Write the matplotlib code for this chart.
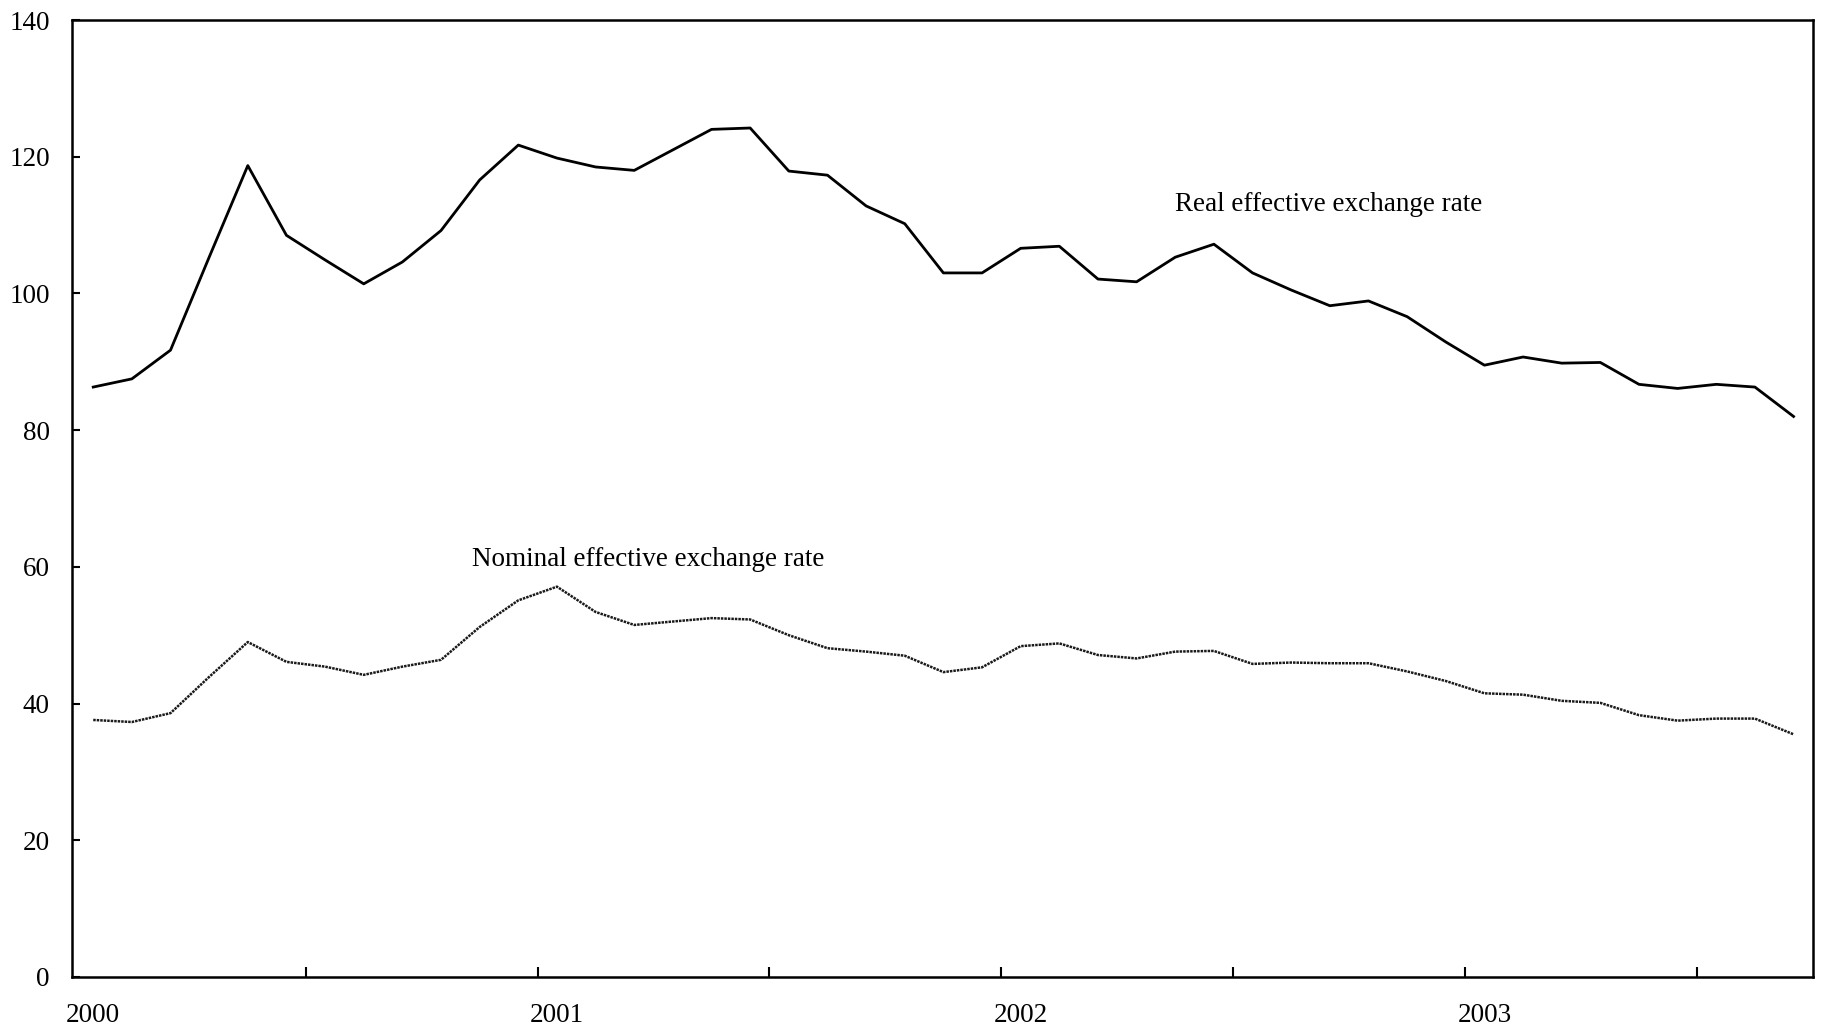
import numpy as np
import matplotlib
matplotlib.use("Agg")
import matplotlib.pyplot as plt

plt.rcParams['font.family'] = ['Liberation Serif', 'DejaVu Serif']

# Monthly data, Jan 2000 - Sep 2003
months = np.arange(45)
real_rate = [86.3, 87.5, 91.7, 105.3, 118.7, 108.5, 104.9, 101.4, 104.6, 109.2,
             116.6, 121.7, 119.8, 118.5, 118.0, 121.0, 124.0, 124.2, 117.9, 117.3,
             112.8, 110.2, 103.0, 103.0, 106.6, 106.9, 102.1, 101.7, 105.3, 107.2,
             103.0, 100.5, 98.2, 98.9, 96.6, 92.9, 89.5, 90.7, 89.8, 89.9,
             86.7, 86.1, 86.7, 86.3, 82.0]
nominal_rate = [37.6, 37.3, 38.6, 43.9, 49.0, 46.1, 45.4, 44.2, 45.4, 46.4,
                51.2, 55.1, 57.1, 53.4, 51.5, 52.0, 52.5, 52.3, 50.0, 48.1,
                47.6, 47.0, 44.6, 45.3, 48.4, 48.8, 47.1, 46.6, 47.6, 47.7,
                45.8, 46.0, 45.9, 45.9, 44.7, 43.3, 41.5, 41.3, 40.4, 40.1,
                38.3, 37.5, 37.8, 37.8, 35.5]
year_labels = ['2000', '2001', '2002', '2003']
year_pos = [0, 12, 24, 36]
half_year_ticks = [5.5, 11.5, 17.5, 23.5, 29.5, 35.5, 41.5]

fig = plt.figure(figsize=(18.22, 10.31), dpi=100)
ax = fig.add_axes([0.0395, 0.0524, 0.9555, 0.9282])

ax.plot(months, real_rate, color='black', linewidth=2.0)
ax.plot(months, nominal_rate, color='#1a1a1a', linewidth=1.8, linestyle=(0, (1, 0.4)))

ax.text(28.0, 113.0, 'Real effective exchange rate', fontsize=19.5, va='center', ha='left')
ax.text(9.8, 61.1, 'Nominal effective exchange rate', fontsize=19.5, va='center', ha='left')

ax.set_xlim(-0.55, 44.5)
ax.set_ylim(0, 140)
ax.set_yticks(np.arange(0, 141, 20))

# half-year tick marks without labels, year labels without marks
ax.set_xticks(half_year_ticks)
ax.set_xticklabels([])
ax.set_xticks(year_pos, minor=True)
ax.set_xticklabels(year_labels, minor=True)
ax.tick_params(axis='x', which='major', direction='in', length=7, width=1.5)
ax.tick_params(axis='x', which='minor', length=0, pad=19, labelsize=19.5)
ax.tick_params(axis='y', direction='in', length=6, width=1.5, pad=16, labelsize=19.5)

for s in ax.spines.values():
    s.set_linewidth(1.8)

fig.savefig('out.png', dpi=100)
